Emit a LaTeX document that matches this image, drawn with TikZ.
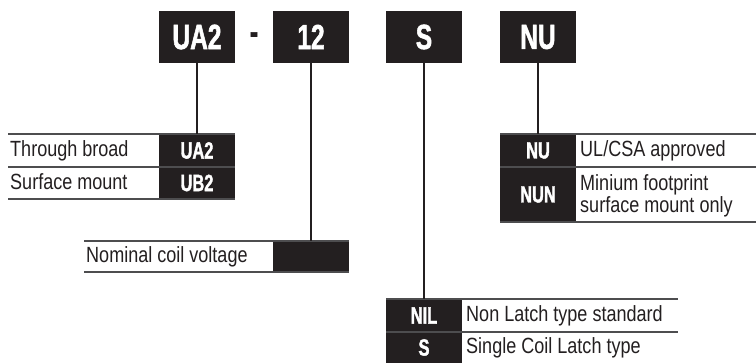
\documentclass[tikz,border=0pt]{standalone}
\usepackage{fontspec}
\setmainfont{Liberation Sans}
\newfontfamily\condfont[FakeStretch=0.82]{Liberation Sans}
\newfontfamily\condbold[FakeStretch=0.70,UprightFont={* Bold},FakeBold=1.5]{Liberation Sans}
\definecolor{ink}{HTML}{231F20}
\definecolor{rulegray}{HTML}{4D4D4F}

\begin{document}
\begin{tikzpicture}[x=1pt,y=-1pt,
  hdrbox/.style={fill=ink,text=white,inner sep=0pt,minimum width=76pt,minimum height=52pt,font=\condbold\fontsize{35}{38}\selectfont},
  cellbox/.style={fill=ink,text=white,inner sep=0pt,minimum width=76pt,font=\condbold\fontsize{23.5}{25}\selectfont},
  rowtxt/.style={anchor=base west,inner sep=0pt,text=ink,font=\condfont\fontsize{22}{22}\selectfont},
  rowrule/.style={draw=rulegray,line width=1.3pt},
  stem/.style={draw=ink,line width=1.8pt}]
\useasboundingbox (0,0) rectangle (756,363);

% part number
\node[hdrbox] (ua2hdr) at (197,37) {UA2};
\node[anchor=base,inner sep=0pt,text=ink,font=\condbold\fontsize{35}{38}\selectfont] (dash) at (254,43.5) {-};
\node[hdrbox] (v12hdr) at (311,37) {12};
\node[hdrbox] (shdr) at (424,37) {S};
\node[hdrbox] (nuhdr) at (538,37) {NU};

% mounting
\node[cellbox,minimum height=33pt] (ua2cell) at (197,150.5) {UA2};
\node[cellbox,minimum height=32pt] (ub2cell) at (197,183) {UB2};
\node[rowtxt] (thru) at (10,157) {Through broad};
\node[rowtxt] (surf) at (10,189.5) {Surface mount};
\draw[rowrule] (8,134) -- (235,134);
\draw[rowrule] (8,167) -- (235,167);
\draw[rowrule] (8,199) -- (235,199);

% coil voltage
\node[cellbox,minimum height=31pt] (voltcell) at (311,256.5) {};
\node[rowtxt] (volt) at (86,263) {Nominal coil voltage};
\draw[rowrule] (84,241) -- (349,241);
\draw[rowrule] (84,272) -- (349,272);

% approval
\node[cellbox,minimum height=33pt] (nucell) at (538,150.5) {NU};
\node[cellbox,minimum height=55pt] (nuncell) at (538,194.5) {NUN};
\node[rowtxt] (ulcsa) at (580,157) {UL/CSA approved};
\node[rowtxt,anchor=west,align=left] (minfp) at (580,196) {Minium footprint\\surface mount only};
\draw[rowrule] (500,134) -- (756,134);
\draw[rowrule] (500,167) -- (756,167);
\draw[rowrule] (500,222) -- (756,222);

% latch type
\node[cellbox,minimum height=33pt] (nilcell) at (424,315.5) {NIL};
\node[cellbox,minimum height=31pt] (scell) at (424,347.5) {S};
\node[rowtxt] (nonl) at (466,322) {Non Latch type standard};
\node[rowtxt] (sgl) at (466,354) {Single Coil Latch type};
\draw[rowrule] (386,299) -- (678,299);
\draw[rowrule] (386,332) -- (678,332);

% stems
\draw[stem] (ua2hdr) -- (ua2cell);
\draw[stem] (v12hdr) -- (voltcell);
\draw[stem] (shdr) -- (nilcell);
\draw[stem] (nuhdr) -- (nucell);
\end{tikzpicture}
\end{document}
